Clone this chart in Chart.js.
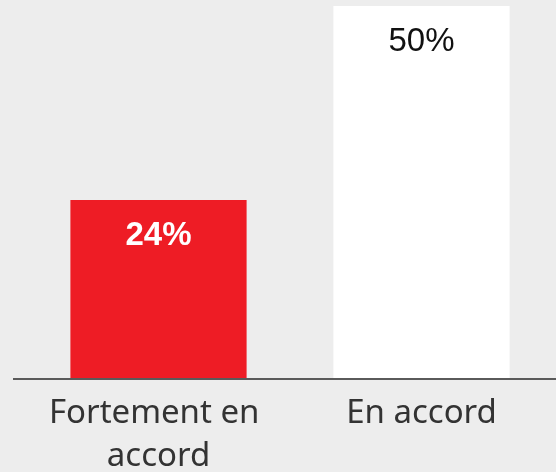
<!DOCTYPE html>
<html>
<head>
<meta charset="utf-8">
<script src="https://cdn.jsdelivr.net/npm/chart.js@4"></script>
<style>
  body { margin: 0; background: #ededed; }
  #wrap { width: 556px; height: 472px; }
</style>
</head>
<body>
<div id="wrap"><canvas id="my-chart" width="556" height="472"></canvas></div>
<script>
'use strict';

// data
let categories = [['Fortement en ', 'accord'], 'En accord'];
let values = [24, 50];
let barColors = ['#ee1c25', '#ffffff'];
let labelColors = ['#ffffff', '#111111'];
let labelWeights = ['bold', 'normal'];

// draws the % text inside each bar + the baseline
let barLabels = {
  id: 'barLabels',
  afterDatasetsDraw(chart) {
    let ctx = chart.ctx;
    let meta = chart.getDatasetMeta(0);
    ctx.save();
    ctx.textAlign = 'center';
    ctx.textBaseline = 'middle';
    meta.data.forEach(function (bar, i) {
      ctx.font = labelWeights[i] + ' 33px "Liberation Sans", Arial, sans-serif';
      ctx.fillStyle = labelColors[i];
      ctx.fillText(values[i] + '%', bar.x, bar.y + 36);
    });
    // axis line
    let y = chart.chartArea.bottom;
    ctx.strokeStyle = '#5a5a5a';
    ctx.lineWidth = 2;
    ctx.beginPath();
    ctx.moveTo(13, y);
    ctx.lineTo(556, y);
    ctx.stroke();
    ctx.restore();
  }
};

let ctx = document.getElementById('my-chart');

let chartObject = {
  type: 'bar',
  data: {
    labels: categories,
    datasets: [{
      data: values,
      backgroundColor: barColors,
      borderWidth: 0,
      categoryPercentage: 0.67,
      barPercentage: 1
    }]
  },
  options: {
    responsive: false,
    animation: false,
    layout: {
      padding: { left: 27, right: 3, top: 6, bottom: 0 }
    },
    plugins: {
      legend: { display: false },
      tooltip: { enabled: false }
    },
    scales: {
      y: {
        display: false,
        min: 0,
        max: 50
      },
      x: {
        grid: { display: false, drawTicks: false },
        border: { display: false },
        afterFit: function (scale) {
          scale.height = 93; // labels run to the bottom edge like the original
        },
        ticks: {
          color: '#333333',
          padding: 13,
          maxRotation: 0,
          font: { family: '"Noto Sans", sans-serif', size: 33, lineHeight: 1.3 }
        }
      }
    }
  },
  plugins: [barLabels]
};

const myChart = new Chart(ctx, chartObject);
</script>
</body>
</html>
